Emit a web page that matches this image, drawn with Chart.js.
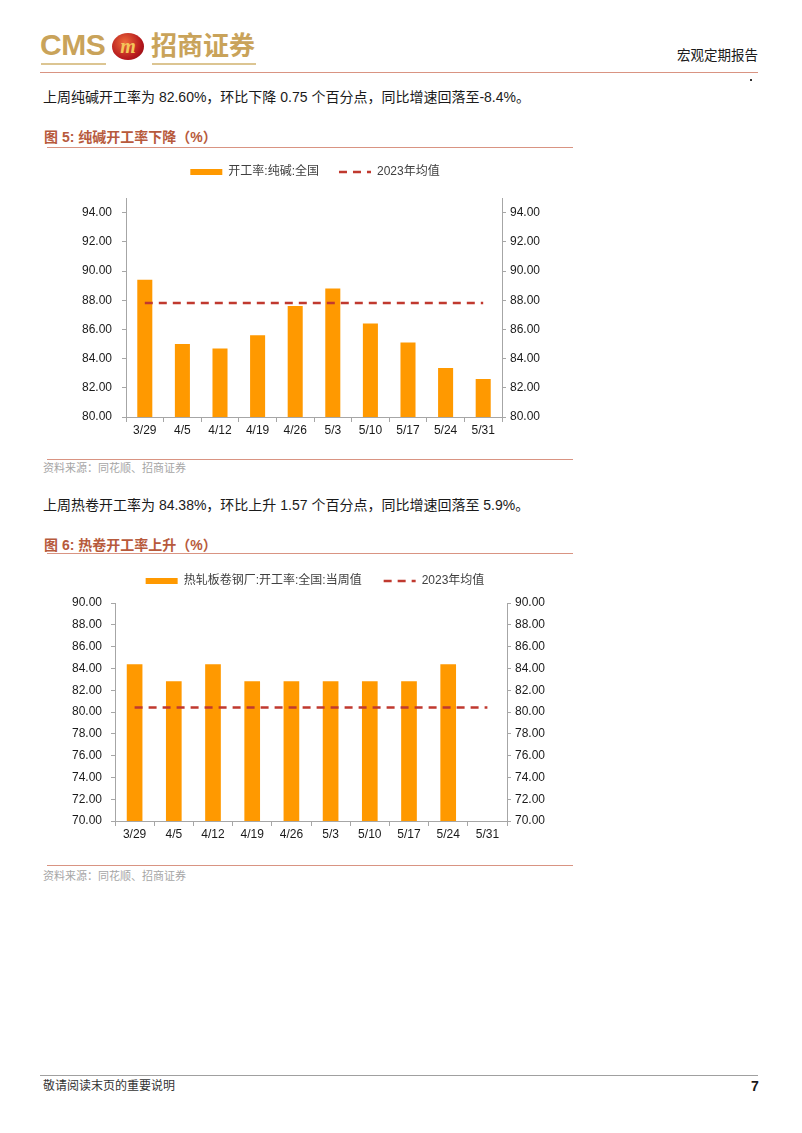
<!DOCTYPE html>
<html lang="zh-CN">
<head>
<meta charset="utf-8">
<title>宏观定期报告 - 开工率</title>
<script src="https://cdn.jsdelivr.net/npm/chart.js@4.4.1/dist/chart.umd.min.js"></script>
<style>
  html, body { margin: 0; padding: 0; background: #fff; }
  body { width: 802px; height: 1133px; position: relative; overflow: hidden;
         font-family: "Liberation Sans", "Noto Sans CJK SC", sans-serif; color: #1a1a1a; }
  .abs { position: absolute; white-space: nowrap; }
  .rule { position: absolute; height: 0; }
  .para { font-size: 14px; line-height: 20px; left: 43px; }
  .fig { font-size: 14px; line-height: 20px; left: 44px; color: #b75a3c; font-weight: bold; }
  .src { font-size: 11px; line-height: 14px; left: 43px; color: #a6a6a6; }
  canvas { position: absolute; }
</style>
</head>
<body>

<!-- header -->
<div class="abs" style="left:40px;top:27px;font-size:30px;line-height:36px;font-weight:bold;color:#c9a35a;letter-spacing:-0.5px;">CMS</div>
<div class="abs" style="left:112px;top:33px;width:32px;height:27px;border-radius:50%;
     background:radial-gradient(circle at 40% 35%, #ee6a3a, #b3161c 65%, #7c0d10);
     color:#f4c65a;font:italic bold 20px 'Liberation Serif', serif;text-align:center;line-height:26px;">m</div>
<div class="abs" style="left:151px;top:30px;font-size:26px;line-height:32px;font-weight:bold;color:#c9a35a;">招商证券</div>
<div class="rule" style="left:41px;top:63px;width:65px;border-top:2px solid #dcc592;"></div>
<div class="rule" style="left:152px;top:63px;width:104px;border-top:2px solid #dcc592;"></div>
<div class="abs" style="right:44px;top:47px;font-size:13.5px;line-height:18px;">宏观定期报告</div>
<div class="rule" style="left:40px;top:72px;width:718px;border-top:1.5px solid #d99482;"></div>
<div class="abs" style="left:750px;top:79px;width:2px;height:2px;background:#333;"></div>

<!-- section 1 -->
<div class="abs para" style="top:87px;">上周纯碱开工率为 82.60%，环比下降 0.75 个百分点，同比增速回落至-8.4%。</div>
<div class="abs fig" style="top:127px;">图 5:&nbsp;纯碱开工率下降（%）</div>
<div class="rule" style="left:47px;top:147px;width:526px;border-top:1.5px solid #d99482;"></div>
<canvas id="sodaChart" width="536" height="311" style="left:47px;top:146px;"></canvas>
<div class="rule" style="left:47px;top:459px;width:526px;border-top:1.5px solid #d99482;"></div>
<div class="abs src" style="top:461px;">资料来源：同花顺、招商证券</div>

<!-- section 2 -->
<div class="abs para" style="top:495px;">上周热卷开工率为 84.38%，环比上升 1.57 个百分点，同比增速回落至 5.9%。</div>
<div class="abs fig" style="top:535px;">图 6:&nbsp;热卷开工率上升（%）</div>
<div class="rule" style="left:47px;top:553px;width:526px;border-top:1.5px solid #d99482;"></div>
<canvas id="coilChart" width="536" height="308" style="left:47px;top:553px;"></canvas>
<div class="rule" style="left:47px;top:865px;width:526px;border-top:1.5px solid #d99482;"></div>
<div class="abs src" style="top:869px;">资料来源：同花顺、招商证券</div>

<!-- footer -->
<div class="rule" style="left:40px;top:1075px;width:718px;border-top:1px solid #a0a0a0;"></div>
<div class="abs" style="left:43px;top:1078px;font-size:12px;line-height:16px;color:#333;">敬请阅读末页的重要说明</div>
<div class="abs" style="left:751px;top:1077px;font-size:14px;line-height:18px;font-weight:bold;">7</div>

<script>
const weeks = ['3/29', '4/5', '4/12', '4/19', '4/26', '5/3', '5/10', '5/17', '5/24', '5/31'];

// 开工率:纯碱:全国
const sodaRate = [89.4, 85.0, 84.7, 85.6, 87.6, 88.8, 86.4, 85.1, 83.35, 82.6];
const sodaAvg2023 = [87.8, 87.8, 87.8, 87.8, 87.8, 87.8, 87.8, 87.8, 87.8, 87.8];
const sodaTicks = [80, 82, 84, 86, 88, 90, 92, 94];

// 热轧板卷钢厂:开工率:全国:当周值
const coilRate = [84.38, 82.81, 84.38, 82.81, 82.81, 82.81, 82.81, 82.81, 84.38, null];
const coilAvg2023 = [80.42, 80.42, 80.42, 80.42, 80.42, 80.42, 80.42, 80.42, 80.42, 80.42];
const coilTicks = [70, 72, 74, 76, 78, 80, 82, 84, 86, 88, 90];

Chart.defaults.font.family = "'Liberation Sans', 'Noto Sans CJK SC', sans-serif";
Chart.defaults.font.size = 12;
Chart.defaults.color = '#1a1a1a';

const axisGray = '#a6a6a6';

function legendLabels(chart) {
  const items = Chart.defaults.plugins.legend.labels.generateLabels(chart);
  items.forEach(it => {
    const ds = chart.data.datasets[it.datasetIndex];
    if (ds.type === 'line') {
      it.pointStyle = 'line';
      it.lineDash = ds.borderDash;
      it.lineWidth = ds.borderWidth;
      it.strokeStyle = ds.borderColor;
    } else {
      it.pointStyle = 'rect';
      it.lineWidth = 0;
    }
  });
  return items;
}

// extra space between legend and plot area
function legendGap(extra) {
  return {
    id: 'legendGap',
    beforeInit(chart) {
      const fit = chart.legend.fit;
      chart.legend.fit = function () {
        fit.bind(chart.legend)();
        this.height += extra;
      };
    }
  };
}

function yAxis(pos, min, max, ticks, width, pad) {
  return {
    position: pos,
    min: min,
    max: max,
    afterBuildTicks: s => { s.ticks = ticks.map(v => ({ value: v })); },
    afterFit: s => { s.width = width; },
    ticks: { padding: pad, callback: v => Number(v).toFixed(2) },
    grid: { drawOnChartArea: false, tickLength: 4, color: axisGray },
    border: { color: axisGray }
  };
}

function makeChart(id, barLabel, bars, avg, opt) {
  return new Chart(document.getElementById(id), {
    data: {
      labels: weeks,
      datasets: [
        {
          type: 'line',
          label: '2023年均值',
          data: avg,
          borderColor: '#c0392f',
          borderWidth: 2.5,
          borderDash: [8, 6],
          pointRadius: 0,
          fill: false
        },
        {
          type: 'bar',
          label: barLabel,
          data: bars,
          backgroundColor: '#ff9900',
          borderWidth: 0,
          barPercentage: 0.4,
          categoryPercentage: 1.0
        }
      ]
    },
    plugins: [legendGap(opt.gap)],
    options: {
      responsive: false,
      animation: false,
      devicePixelRatio: 1,
      layout: { padding: 0 },
      plugins: {
        tooltip: { enabled: false },
        legend: {
          position: 'top',
          reverse: true,
          labels: {
            usePointStyle: true,
            pointStyleWidth: 32,
            boxHeight: 6,
            padding: opt.legendPad,
            color: '#404040',
            font: { size: 12 },
            generateLabels: legendLabels
          }
        }
      },
      scales: {
        x: {
          offset: true,
          grid: { offset: true, drawOnChartArea: false, tickLength: 5, color: axisGray },
          border: { color: axisGray },
          ticks: { padding: 1, maxRotation: 0, autoSkip: false },
          afterFit: s => { s.height = 40; }
        },
        y: yAxis('left', opt.min, opt.max, opt.ticks, opt.leftW, opt.leftPad),
        y2: yAxis('right', opt.min, opt.max, opt.ticks, opt.rightW, opt.rightPad)
      }
    }
  });
}

makeChart('sodaChart', '开工率:纯碱:全国', sodaRate, sodaAvg2023,
  { min: 80, max: 95, ticks: sodaTicks, leftW: 79, rightW: 81, leftPad: 10, rightPad: 4,
    legendPad: 20, gap: 10 });

makeChart('coilChart', '热轧板卷钢厂:开工率:全国:当周值', coilRate, coilAvg2023,
  { min: 70, max: 90, ticks: coilTicks, leftW: 68, rightW: 76, leftPad: 9, rightPad: 4,
    legendPad: 22, gap: 6 });
</script>
</body>
</html>
